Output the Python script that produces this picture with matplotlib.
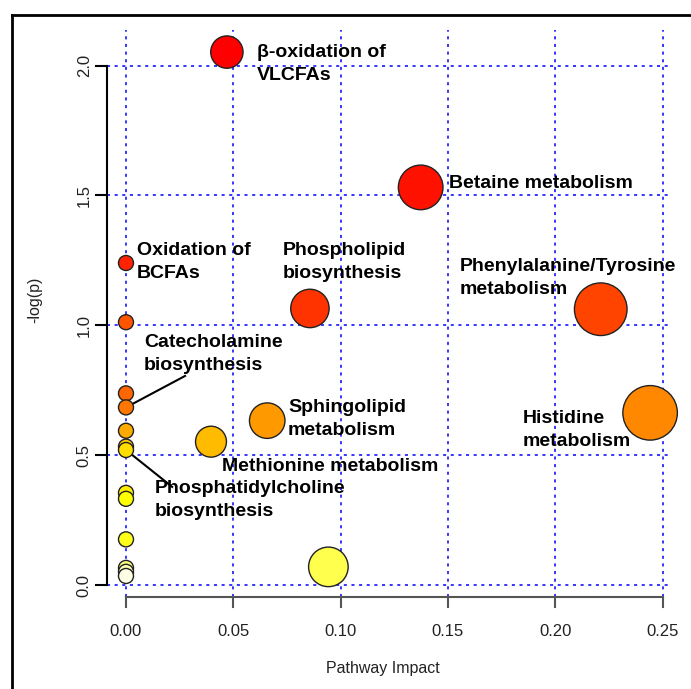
import colorsys
import matplotlib
matplotlib.use("Agg")
import matplotlib.pyplot as plt
from matplotlib.lines import Line2D
import numpy as np

# pathway impact (x) and -log(p) (y) for every pathway
impact = [0.047, 0.1373, 0.0, 0.0857, 0.2212, 0.0, 0.0, 0.0, 0.2442, 0.0658,
          0.0, 0.0396, 0.0, 0.0, 0.0, 0.0, 0.0, 0.0943, 0.0, 0.0, 0.0]
neglogp = [2.052, 1.531, 1.24, 1.065, 1.062, 1.012, 0.738, 0.684, 0.663, 0.633,
           0.594, 0.552, 0.533, 0.520, 0.355, 0.332, 0.176, 0.070, 0.066, 0.051, 0.035]

# labelled pathways: text, text anchor (x, y)
label_text = ["\u03b2-oxidation of\nVLCFAs", "Betaine metabolism", "Oxidation of\nBCFAs",
              "Phospholipid\nbiosynthesis", "Phenylalanine/Tyrosine\nmetabolism",
              "Catecholamine\nbiosynthesis", "Sphingolipid\nmetabolism",
              "Methionine metabolism", "Histidine\nmetabolism",
              "Phosphatidylcholine\nbiosynthesis"]
label_x = [0.0612, 0.1505, 0.0051, 0.0732, 0.1556, 0.0084, 0.0755, 0.0447, 0.1850, 0.0135]
label_y = [2.007, 1.547, 1.245, 1.245, 1.183, 0.888, 0.638, 0.456, 0.597, 0.328]

# leader lines: point (x, y) -> text (x, y)
lead_from = [(0.0, 0.684), (0.0, 0.520)]
lead_to = [(0.0275, 0.805), (0.0215, 0.378)]

xticks = [0.00, 0.05, 0.10, 0.15, 0.20, 0.25]
yticks = [0.0, 0.5, 1.0, 1.5, 2.0]


def heat_colors(n):
    # same scheme as R's heat.colors(): red -> yellow, then fading yellow
    j = n // 4
    i = n - j
    cols = []
    for k in range(i):
        h = (k / (i - 1)) * (1 / 6) if i > 1 else 0
        cols.append(colorsys.hsv_to_rgb(h, 1, 1))
    if j > 0:
        for s in np.linspace(1 - 1 / (2 * j), 1 / (2 * j), j):
            cols.append(colorsys.hsv_to_rgb(1 / 6, s, 1))
    return cols


x = np.array(impact)
y = np.array(neglogp)
order = np.argsort(-y)
palette = heat_colors(len(y))
colors = [None] * len(y)
for rank, idx in enumerate(order):
    colors[idx] = palette[rank]

dpi = 100
# bubble radius in pixels grows with impact
radius = 7.5 + 40 * np.sqrt(x)
sizes = (2 * radius * 72 / dpi) ** 2

fig = plt.figure(figsize=(6.91, 6.89), dpi=dpi)
ax = fig.add_axes([107 / 691, 1 - 597 / 689, 565 / 691, 567 / 689])
ax.set_xlim(-0.00885, 0.2544)
ax.set_ylim(-0.046, 2.137)

for t in xticks:
    ax.axvline(t, color="#0000ff", ls=(0, (2, 3)), lw=1.1, zorder=1)
for t in yticks:
    ax.axhline(t, color="#0000ff", ls=(0, (2, 3)), lw=1.1, zorder=1)

# draw smallest bubbles last so they sit on top, lower values on top at x=0
draw = sorted(range(len(y)), key=lambda k: (-sizes[k], -y[k]))
ax.scatter(x[draw], y[draw], s=sizes[draw], c=[colors[k] for k in draw],
           edgecolors="#222222", linewidths=1.0, zorder=3, clip_on=False)

for txt, tx, ty in zip(label_text, label_x, label_y):
    ax.text(tx, ty, txt, fontsize=14, fontweight="bold", family="Liberation Sans",
            ha="left", va="center", linespacing=1.45, zorder=4)

for (x0, y0), (x1, y1) in zip(lead_from, lead_to):
    ax.plot([x0, x1], [y0, y1], color="black", lw=1.5, zorder=2)

# R style detached axes
for sp in ax.spines.values():
    sp.set_visible(False)
ax.set_xticks([])
ax.set_yticks([])

ax.plot([0, 0.25], [-0.046, -0.046], color="#555555", lw=1.5, clip_on=False)
for t in xticks:
    ax.plot([t, t], [-0.046, -0.084], color="#555555", lw=1.5, clip_on=False)
    ax.text(t, -0.18, f"{t:.2f}", ha="center", va="center", fontsize=12,
            family="Liberation Sans", color="#222222")

ax.plot([-0.00885, -0.00885], [0, 2.0], color="black", lw=1.5, clip_on=False)
for t in yticks:
    ax.plot([-0.00885, -0.0140], [t, t], color="black", lw=1.5, clip_on=False)
    ax.text(-0.0195, t, f"{t:.1f}", ha="center", va="center", fontsize=12,
            rotation=90, family="Liberation Sans", color="#222222")

fig.text(383 / 691, 1 - 669 / 689, "Pathway Impact", ha="center", va="center",
         fontsize=11.5, family="Liberation Sans", color="#222222")
fig.text(35 / 691, 1 - 300 / 689, "-log(p)", ha="center", va="center",
         fontsize=11.5, rotation=90, family="Liberation Sans", color="#222222")

# outer frame, open to the right and bottom
fig.add_artist(Line2D([12 / 691, 12 / 691], [1 - 15 / 689, 0], color="black", lw=2))
fig.add_artist(Line2D([12 / 691, 1], [1 - 15 / 689, 1 - 15 / 689], color="black", lw=2))

fig.savefig("out.png", dpi=dpi)
